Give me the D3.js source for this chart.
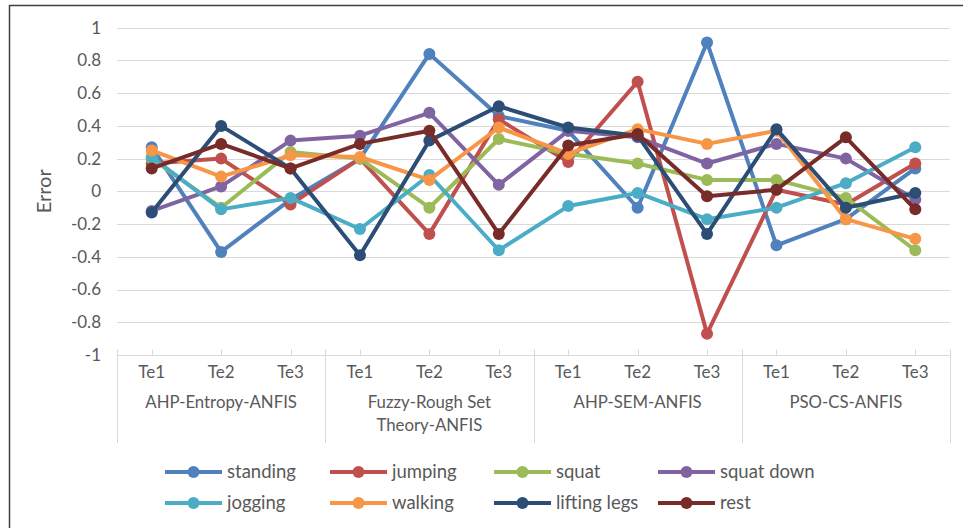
<!DOCTYPE html>
<html><head><meta charset="utf-8">
<script src="https://cdn.jsdelivr.net/npm/d3@7"></script>
<style>html,body{margin:0;padding:0;background:#fff;} svg{display:block;font-family:Lato,"Open Sans",sans-serif;}</style>
</head><body>
<svg id="c" width="963" height="528"></svg>
<script>
const groups = ["AHP-Entropy-ANFIS", "Fuzzy-Rough Set|Theory-ANFIS", "AHP-SEM-ANFIS", "PSO-CS-ANFIS"];
const tests = ["Te1", "Te2", "Te3"];
const yTicks = [1, 0.8, 0.6, 0.4, 0.2, 0, -0.2, -0.4, -0.6, -0.8, -1];
const seriesNames = ["standing", "jumping", "squat", "squat down", "jogging", "walking", "lifting legs", "rest"];
const seriesColors = ["#4F81BD", "#C0504D", "#9BBB59", "#8064A2", "#4BACC6", "#F79646", "#2C4D75", "#772C2A"];
const standing   = [0.27, -0.37, -0.05, 0.20, 0.84, 0.46, 0.37, -0.10, 0.91, -0.33, -0.17, 0.14];
const jumping    = [0.17, 0.20, -0.08, 0.20, -0.26, 0.44, 0.18, 0.67, -0.87, 0.01, -0.08, 0.17];
const squat      = [0.20, -0.10, 0.24, 0.20, -0.10, 0.32, 0.23, 0.17, 0.07, 0.07, -0.04, -0.36];
const squatDown  = [-0.12, 0.03, 0.31, 0.34, 0.48, 0.04, 0.37, 0.33, 0.17, 0.29, 0.20, -0.05];
const jogging    = [0.21, -0.11, -0.04, -0.23, 0.10, -0.36, -0.09, -0.01, -0.17, -0.10, 0.05, 0.27];
const walking    = [0.25, 0.09, 0.22, 0.21, 0.07, 0.39, 0.23, 0.38, 0.29, 0.37, -0.17, -0.29];
const liftingLegs= [-0.13, 0.40, 0.14, -0.39, 0.31, 0.52, 0.39, 0.34, -0.26, 0.38, -0.10, -0.01];
const rest       = [0.14, 0.29, 0.14, 0.29, 0.37, -0.26, 0.28, 0.35, -0.03, 0.01, 0.33, -0.11];
const seriesValues = [standing, jumping, squat, squatDown, jogging, walking, liftingLegs, rest];

(function () {
const svg = d3.select("#c");
const textColor = "#595959", gridColor = "#d9d9d9";
const pLeft = 117, pRight = 950, pTop = 27.7, pBottom = 355;

svg.append("rect").attr("x", 9.5).attr("y", 5.5).attr("width", 1000).attr("height", 600)
  .attr("fill", "none").attr("stroke", "#404040").attr("stroke-width", 1.5);

const cats = [];
groups.forEach((g, gi) => tests.forEach(t => cats.push(gi + "|" + t)));
const x = d3.scalePoint().domain(cats).range([pLeft, pRight]).padding(0.5);
const y = d3.scaleLinear().domain([-1, 1]).range([pBottom, pTop]);

svg.append("g").selectAll("line").data(yTicks.filter(v => v !== -1)).join("line")
  .attr("x1", pLeft).attr("x2", pRight)
  .attr("y1", d => Math.round(y(d)) + 0.5).attr("y2", d => Math.round(y(d)) + 0.5)
  .attr("stroke", gridColor).attr("stroke-width", 1);

const yAxis = d3.axisLeft(y).tickValues(yTicks).tickSize(0).tickPadding(0).tickFormat(d => String(d));
const ya = svg.append("g").attr("transform", "translate(101,0)").call(yAxis);
ya.select(".domain").remove();
ya.selectAll("text").attr("fill", textColor).attr("font-size", 17).attr("font-family", "Lato, sans-serif");

svg.append("text").attr("transform", `translate(51,${y(0)}) rotate(-90)`)
  .attr("text-anchor", "middle").attr("fill", textColor).attr("font-size", 20).text("Error");

const ax = svg.append("g");
const by = Math.round(pBottom) + 0.5;
ax.append("line").attr("x1", pLeft).attr("x2", pRight).attr("y1", by).attr("y2", by).attr("stroke", gridColor);
const step = x.step();
ax.selectAll(".tk").data(cats).join("line").attr("class", "tk")
  .attr("x1", d => Math.round(x(d)) + 0.5).attr("x2", d => Math.round(x(d)) + 0.5)
  .attr("y1", by - 6).attr("y2", by).attr("stroke", gridColor);
const seps = d3.range(groups.length + 1).map(i => pLeft + i * 3 * step);
ax.selectAll(".sp").data(seps).join("line").attr("class", "sp")
  .attr("x1", d => Math.round(d) + 0.5).attr("x2", d => Math.round(d) + 0.5)
  .attr("y1", by - 6).attr("y2", 443).attr("stroke", gridColor);
ax.selectAll(".tl").data(cats).join("text").attr("class", "tl")
  .attr("x", d => x(d)).attr("y", 378).attr("text-anchor", "middle")
  .attr("fill", textColor).attr("font-size", 17).text(d => d.split("|")[1]);
groups.forEach((g, gi) => {
  const cx = pLeft + (gi + 0.5) * 3 * step;
  g.split("|").forEach((ln, li) => {
    ax.append("text").attr("x", cx).attr("y", 408 + li * 23).attr("text-anchor", "middle")
      .attr("fill", textColor).attr("font-size", 16.8).text(ln);
  });
});

const line = d3.line().x((d, i) => x(cats[i])).y(d => y(d));
seriesValues.forEach((vals, si) => {
  const g = svg.append("g");
  g.append("path").datum(vals).attr("d", line).attr("fill", "none")
    .attr("stroke", seriesColors[si]).attr("stroke-width", 4).attr("stroke-linejoin", "round");
  g.selectAll("circle").data(vals).join("circle")
    .attr("cx", (d, i) => x(cats[i])).attr("cy", d => y(d)).attr("r", 6)
    .attr("fill", seriesColors[si]);
});

const legX = [165, 330, 494, 658], legY = [472, 503];
seriesNames.forEach((n, i) => {
  const lx = legX[i % 4], ly = legY[Math.floor(i / 4)];
  const g = svg.append("g");
  g.append("line").attr("x1", lx).attr("x2", lx + 57).attr("y1", ly).attr("y2", ly)
    .attr("stroke", seriesColors[i]).attr("stroke-width", 4);
  g.append("circle").attr("cx", lx + 28.5).attr("cy", ly).attr("r", 6).attr("fill", seriesColors[i]);
  g.append("text").attr("x", lx + 62).attr("y", ly).attr("dy", "0.35em")
    .attr("fill", textColor).attr("font-size", 18.5).text(n);
});
})();
</script>
</body></html>
